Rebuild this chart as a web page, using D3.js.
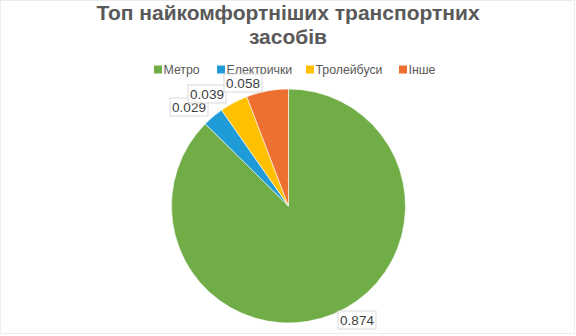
<!DOCTYPE html>
<html>
<head>
<meta charset="utf-8">
<script src="https://cdn.jsdelivr.net/npm/d3@7"></script>
<style>
  body { margin: 0; background: #fff; }
  svg { display: block; font-family: Arial, "Liberation Sans", sans-serif; }
</style>
</head>
<body>
<div id="chart"></div>
<script>
const categories = ["Метро", "Електрички", "Тролейбуси", "Інше"];
const shares = [0.874, 0.029, 0.039, 0.058];
const colors = ["#70ad47", "#1f9bd7", "#ffc000", "#ed7031"];
const titleLines = ["Топ найкомфортніших транспортних", "засобів"];
// label box centres, as Excel placed them
const labelPos = [[357, 320], [189, 107], [207, 94], [243, 83]];

const width = 576, height = 336;
const cx = 288.5, cy = 206, radius = 117;

const svg = d3.select("#chart")
  .append("svg")
  .attr("width", width)
  .attr("height", height);

svg.append("rect")
  .attr("x", 0.5).attr("y", 0.5)
  .attr("width", width - 2).attr("height", height - 3)
  .attr("fill", "#fff")
  .attr("stroke", "#ececec");

// title
svg.append("text")
  .attr("text-anchor", "middle")
  .attr("fill", "#595959")
  .attr("font-size", 21)
  .attr("font-weight", "bold")
  .selectAll("tspan")
  .data(titleLines)
  .enter()
  .append("tspan")
  .attr("x", width / 2)
  .attr("y", (d, i) => 20 + i * 24)
  .text(d => d);

// legend
const legendX = [154, 217, 306, 399];
const legend = svg.append("g")
  .selectAll("g")
  .data(categories)
  .enter()
  .append("g")
  .attr("transform", (d, i) => `translate(${legendX[i]},65.5)`);

legend.append("rect")
  .attr("width", 8).attr("height", 8)
  .attr("fill", (d, i) => colors[i]);

legend.append("text")
  .attr("x", 9.5)
  .attr("y", 8)
  .attr("font-size", 12.3)
  .attr("fill", "#595959")
  .text(d => d);

// pie
const pie = d3.pie().sort(null).value(d => d);
const arc = d3.arc().innerRadius(0).outerRadius(radius);

const g = svg.append("g")
  .attr("transform", `translate(${cx},${cy})`);

g.selectAll("path")
  .data(pie(shares))
  .enter()
  .append("path")
  .attr("d", arc)
  .attr("fill", (d, i) => colors[i])
  .attr("stroke", "#fff")
  .attr("stroke-width", 0.6);

// data labels
const fmt = d3.format(".3f");
const labels = svg.append("g")
  .selectAll("g")
  .data(shares)
  .enter()
  .append("g")
  .attr("transform", (d, i) => `translate(${labelPos[i][0]},${labelPos[i][1]})`);

labels.append("rect")
  .attr("x", -19).attr("y", -9)
  .attr("width", 38).attr("height", 18)
  .attr("fill", "#fff")
  .attr("stroke", "#d9d9d9");

labels.append("text")
  .attr("text-anchor", "middle")
  .attr("y", 5)
  .attr("font-size", 13.5)
  .attr("fill", "#404040")
  .text(d => fmt(d));
</script>
</body>
</html>
